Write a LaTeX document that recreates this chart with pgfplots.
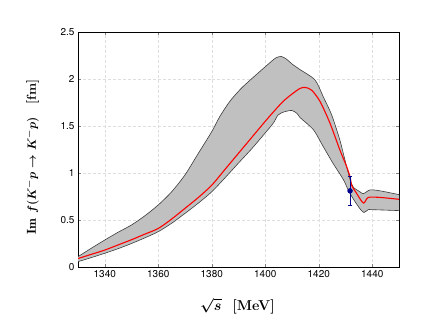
\documentclass[border=0pt]{standalone}
\usepackage{fontspec}
\setsansfont{TeX Gyre Heros}
\usepackage{pgfplots}
\usepackage{pgfplotstable}
\pgfplotsset{compat=1.18}
\usepgfplotslibrary{fillbetween}
\definecolor{bandfill}{RGB}{192,192,192}
\definecolor{bandline}{RGB}{60,60,60}
\definecolor{ptblue}{RGB}{0,0,140}
\pgfplotstableread{
x y
1330 0.11
1335 0.20
1340 0.287
1345 0.37
1350 0.447
1355 0.545
1360 0.66
1365 0.80
1370 0.98
1375 1.21
1380 1.44
1383 1.60
1386.7 1.76
1391 1.90
1396 2.03
1402 2.18
1404 2.225
1406 2.24
1408 2.21
1410 2.16
1413 2.10
1418.6 1.99
1421.7 1.81
1424.8 1.62
1427.9 1.35
1430.4 1.07
1431.7 0.93
1432.9 0.85
1435.4 0.80
1436.7 0.78
1439.2 0.82
1443 0.81
1450 0.77
}\uppertab
\pgfplotstableread{
x y
1330 0.057
1335 0.10
1340 0.146
1345 0.195
1350 0.25
1355 0.31
1360 0.376
1365 0.465
1370 0.57
1375 0.68
1380 0.80
1385 0.95
1389.8 1.10
1395 1.26
1399.8 1.42
1403 1.53
1404.8 1.617
1407 1.65
1410 1.665
1412 1.63
1413 1.59
1418 1.46
1421.7 1.28
1425.4 1.10
1429.2 0.93
1431 0.82
1433 0.72
1435.4 0.62
1436.9 0.58
1438.5 0.61
1440 0.61
1450 0.60
}\lowertab
\pgfplotstableread{
x y
1330 0.09
1335 0.135
1340 0.18
1345 0.235
1350 0.29
1355 0.35
1360 0.41
1365 0.51
1370 0.624
1375 0.74
1380 0.87
1385 1.04
1390 1.21
1395 1.38
1400 1.55
1404 1.68
1407 1.77
1410 1.84
1413 1.90
1415 1.91
1417.4 1.88
1420.5 1.76
1424.2 1.53
1427.9 1.245
1430.4 1.07
1431.7 0.96
1432.3 0.87
1434 0.79
1436.7 0.68
1438.5 0.74
1443 0.74
1450 0.72
}\centraltab
\begin{document}
\begin{tikzpicture}
\begin{axis}[
  at={(0,0)}, anchor=south west,
  scale only axis, width=321bp, height=235bp,
  xmin=1330, xmax=1450, ymin=0, ymax=2.5,
  xtick={1340,1360,1380,1400,1420,1440},
  ytick={0,0.5,1,1.5,2,2.5},
  yticklabels={0,0.5,1,1.5,2,2.5},
  xticklabels={1340,1360,1380,1400,1420,1440},
  tick align=inside, tick pos=both,
  major tick length=3bp,
  grid=major,
  major grid style={densely dashed, black!13, line width=0.4pt},
  axis line style={black, line width=0.6pt},
  tick label style={font=\sffamily\fontsize{10}{12}\selectfont},
  xlabel={$\sqrt{s}$\ \ [MeV]},
  ylabel={$\mathrm{Im}\ f(K^-p\to K^-p)$\quad[fm]},
  xlabel style={font=\fontsize{14.4}{16}\selectfont\bfseries\boldmath, at={(axis description cs:0.497,-0.166)}, anchor=center},
  ylabel style={font=\fontsize{13}{15}\selectfont\bfseries\boldmath, at={(axis description cs:-0.142,0.468)}, anchor=center},
  clip=true,
]
\addplot[name path=U, draw=none, smooth, tension=0.45, forget plot] table {\uppertab};
\addplot[name path=L, draw=none, smooth, tension=0.45, forget plot] table {\lowertab};
\addplot[bandfill] fill between[of=U and L];
\addplot[bandline, line width=0.6pt, smooth, tension=0.45] table {\uppertab};
\addplot[bandline, line width=0.6pt, smooth, tension=0.45] table {\lowertab};
\addplot[red, line width=1.1pt, smooth, tension=0.45] table {\centraltab};
\addplot[ptblue, only marks, mark=*, mark size=2.3pt, line width=0.8pt,
  error bars/.cd, y dir=both, y explicit, error bar style={line width=0.8pt}]
  coordinates {(1431.7,0.81) +- (0,0.155)};
\end{axis}
\pgfresetboundingbox
\useasboundingbox (-78bp,-60bp) rectangle (358bp,267bp);
\end{tikzpicture}
\end{document}
